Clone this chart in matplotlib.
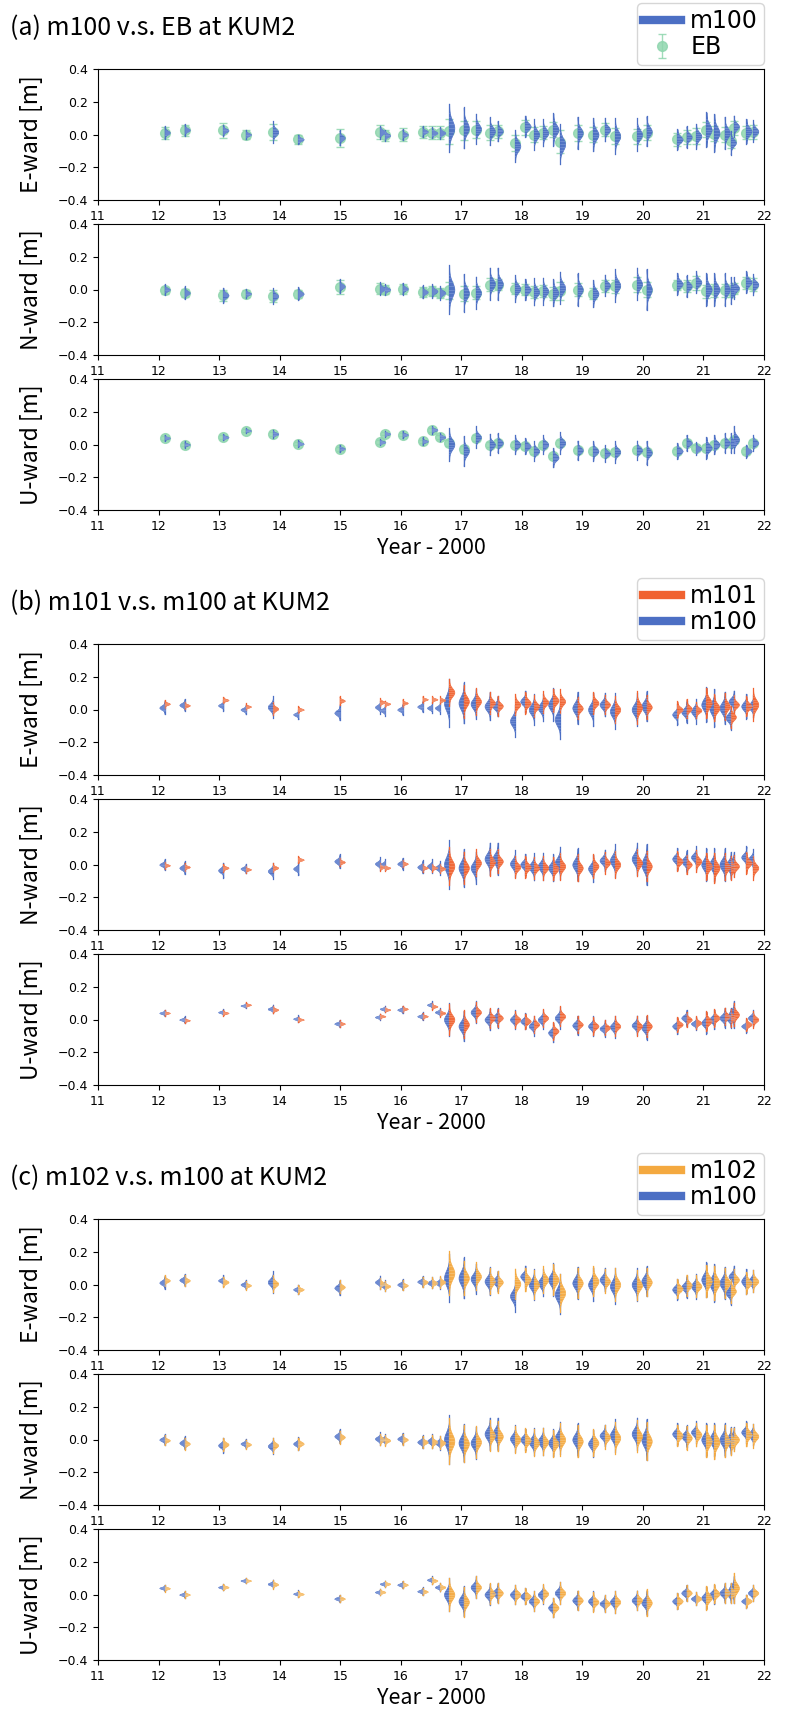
import numpy as np
import matplotlib
matplotlib.use("Agg")
import matplotlib.pyplot as plt
from matplotlib.lines import Line2D

# observation epochs (year - 2000)
epochs = [12.10, 12.43, 13.07, 13.44, 13.89, 14.31, 14.99, 15.66, 15.74, 16.03,
          16.36, 16.52, 16.65, 16.80, 17.04, 17.24, 17.47, 17.60, 17.89, 18.06,
          18.20, 18.35, 18.52, 18.63, 18.92, 19.18, 19.37, 19.54, 19.90, 20.06,
          20.57, 20.72, 20.88, 21.05, 21.18, 21.35, 21.45, 21.50, 21.71, 21.82]

# ---- E-ward ----
m100_e = [0.012, 0.028, 0.025, 0.000, 0.015, -0.030, -0.020, 0.015, -0.005, 0.000,
          0.018, 0.010, 0.010, 0.040, 0.040, 0.035, 0.020, 0.020, -0.070, 0.050,
          0.000, 0.010, 0.030, -0.060, 0.010, 0.000, 0.030, -0.010, 0.000, 0.020,
          -0.030, -0.015, -0.010, 0.030, 0.010, 0.010, -0.050, 0.050, 0.020, 0.020]
m100_e_sd = [0.012, 0.011, 0.010, 0.009, 0.020, 0.009, 0.014, 0.012, 0.010, 0.010,
             0.010, 0.010, 0.011, 0.045, 0.038, 0.028, 0.026, 0.019, 0.030, 0.020,
             0.028, 0.025, 0.030, 0.037, 0.030, 0.031, 0.022, 0.033, 0.030, 0.028,
             0.019, 0.020, 0.023, 0.032, 0.035, 0.030, 0.022, 0.020, 0.023, 0.020]
m101_e = [0.035, 0.025, 0.058, 0.018, 0.005, 0.000, 0.054, 0.045, 0.035, 0.040,
          0.062, 0.062, 0.058, 0.105, 0.050, 0.050, 0.040, 0.022, 0.030, 0.040,
          0.020, 0.045, 0.055, 0.050, 0.008, 0.040, 0.030, 0.000, 0.012, 0.015,
          0.000, 0.005, -0.005, 0.040, 0.010, 0.020, -0.045, 0.030, 0.020, 0.030]
m101_e_sd = [0.007, 0.007, 0.006, 0.006, 0.012, 0.006, 0.008, 0.007, 0.006, 0.007,
             0.006, 0.006, 0.007, 0.025, 0.030, 0.025, 0.020, 0.018, 0.020, 0.020,
             0.020, 0.020, 0.022, 0.022, 0.020, 0.020, 0.018, 0.025, 0.030, 0.022,
             0.015, 0.018, 0.015, 0.028, 0.025, 0.025, 0.020, 0.018, 0.018, 0.030]
m102_e = [0.025, 0.025, 0.015, -0.005, 0.005, -0.030, -0.015, 0.005, -0.010, -0.005,
          0.015, 0.010, 0.015, 0.070, 0.040, 0.050, 0.020, 0.015, 0.005, 0.030,
          0.000, 0.030, 0.030, -0.050, 0.010, 0.020, 0.020, 0.000, -0.005, 0.015,
          -0.025, -0.005, -0.010, 0.020, 0.010, 0.010, -0.040, 0.030, 0.010, 0.020]
m102_e_sd = [0.010, 0.010, 0.010, 0.008, 0.016, 0.008, 0.012, 0.010, 0.009, 0.009,
             0.010, 0.010, 0.011, 0.040, 0.032, 0.026, 0.024, 0.020, 0.028, 0.022,
             0.026, 0.025, 0.028, 0.035, 0.028, 0.028, 0.022, 0.030, 0.028, 0.026,
             0.018, 0.020, 0.020, 0.030, 0.032, 0.028, 0.022, 0.020, 0.020, 0.020]
eb_e = [0.010, 0.025, 0.025, 0.000, 0.015, -0.030, -0.020, 0.015, -0.005, 0.000,
        0.015, 0.010, 0.010, 0.020, 0.025, 0.030, 0.010, 0.020, -0.050, 0.045,
        0.000, 0.010, 0.030, -0.045, 0.010, 0.000, 0.030, -0.010, -0.010, 0.010,
        -0.030, -0.015, -0.010, 0.030, 0.005, 0.000, -0.040, 0.040, 0.010, 0.015]
eb_e_err = [0.035, 0.035, 0.045, 0.030, 0.050, 0.025, 0.055, 0.040, 0.035, 0.040,
            0.035, 0.040, 0.040, 0.075, 0.060, 0.050, 0.045, 0.040, 0.050, 0.045,
            0.045, 0.040, 0.045, 0.070, 0.050, 0.045, 0.040, 0.050, 0.045, 0.045,
            0.040, 0.045, 0.050, 0.045, 0.045, 0.045, 0.045, 0.040, 0.040, 0.045]

# ---- N-ward ----
m100_n = [0.000, -0.020, -0.035, -0.025, -0.040, -0.025, 0.020, 0.005, 0.000, 0.005,
          -0.015, -0.010, -0.020, 0.000, -0.020, -0.020, 0.035, 0.035, 0.005, 0.000,
          -0.015, -0.010, -0.020, 0.010, 0.000, -0.025, 0.025, 0.025, 0.035, 0.000,
          0.035, 0.020, 0.045, 0.000, 0.000, 0.000, -0.005, 0.010, 0.045, 0.030]
m100_n_sd = [0.010, 0.012, 0.014, 0.009, 0.015, 0.012, 0.013, 0.012, 0.010, 0.011,
             0.012, 0.013, 0.013, 0.045, 0.035, 0.030, 0.030, 0.030, 0.025, 0.020,
             0.025, 0.025, 0.025, 0.030, 0.030, 0.025, 0.020, 0.030, 0.030, 0.038,
             0.020, 0.020, 0.020, 0.030, 0.030, 0.030, 0.025, 0.020, 0.020, 0.020]
m101_n = [-0.005, -0.015, -0.020, -0.030, -0.020, 0.030, 0.015, -0.015, -0.020, 0.005,
          -0.020, -0.020, -0.025, -0.010, -0.020, 0.010, 0.015, 0.020, -0.015, -0.015,
          -0.020, -0.020, -0.025, -0.010, -0.020, -0.010, 0.010, 0.000, 0.010, -0.010,
          0.020, 0.000, 0.020, -0.010, -0.020, -0.015, -0.020, -0.010, 0.010, -0.020]
m101_n_sd = [0.006, 0.007, 0.007, 0.006, 0.008, 0.006, 0.008, 0.007, 0.006, 0.007,
             0.007, 0.007, 0.008, 0.035, 0.030, 0.025, 0.025, 0.022, 0.020, 0.020,
             0.020, 0.022, 0.022, 0.025, 0.025, 0.022, 0.020, 0.025, 0.025, 0.028,
             0.018, 0.018, 0.020, 0.025, 0.028, 0.025, 0.022, 0.020, 0.020, 0.022]
m102_n = [-0.005, -0.025, -0.030, -0.030, -0.035, -0.025, 0.015, 0.000, -0.005, 0.000,
          -0.015, -0.015, -0.020, -0.010, -0.025, -0.015, 0.025, 0.020, 0.000, -0.005,
          -0.020, -0.015, -0.025, 0.000, -0.010, -0.020, 0.015, 0.010, 0.020, -0.010,
          0.025, 0.010, 0.030, -0.010, -0.015, -0.010, -0.015, 0.000, 0.030, 0.020]
m102_n_sd = [0.009, 0.011, 0.012, 0.009, 0.014, 0.011, 0.012, 0.011, 0.010, 0.010,
             0.011, 0.012, 0.012, 0.042, 0.034, 0.030, 0.028, 0.028, 0.025, 0.022,
             0.025, 0.025, 0.025, 0.030, 0.030, 0.025, 0.022, 0.030, 0.030, 0.035,
             0.020, 0.022, 0.022, 0.030, 0.032, 0.030, 0.025, 0.022, 0.022, 0.022]
eb_n = [-0.005, -0.020, -0.035, -0.025, -0.040, -0.025, 0.015, 0.005, 0.000, 0.005,
        -0.015, -0.010, -0.020, -0.005, -0.025, -0.020, 0.030, 0.030, 0.005, 0.000,
        -0.015, -0.010, -0.025, -0.010, 0.000, -0.025, 0.020, 0.020, 0.030, 0.000,
        0.030, 0.020, 0.040, -0.010, -0.005, -0.005, -0.010, 0.005, 0.040, 0.030]
eb_n_err = [0.020, 0.025, 0.035, 0.020, 0.035, 0.025, 0.040, 0.035, 0.030, 0.030,
            0.030, 0.030, 0.030, 0.050, 0.045, 0.040, 0.040, 0.035, 0.035, 0.035,
            0.035, 0.035, 0.040, 0.055, 0.040, 0.035, 0.035, 0.040, 0.045, 0.045,
            0.030, 0.035, 0.040, 0.040, 0.040, 0.040, 0.035, 0.035, 0.035, 0.040]

# ---- U-ward ----
m100_u = [0.040, 0.000, 0.045, 0.085, 0.065, 0.005, -0.025, 0.015, 0.065, 0.060,
          0.020, 0.090, 0.045, 0.000, -0.040, 0.045, 0.000, 0.010, 0.000, -0.010,
          -0.040, 0.000, -0.080, 0.010, -0.035, -0.040, -0.055, -0.045, -0.035, -0.050,
          -0.040, 0.010, -0.025, -0.020, 0.000, 0.010, 0.010, 0.030, -0.040, 0.010]
m100_u_sd = [0.006, 0.006, 0.006, 0.005, 0.008, 0.006, 0.007, 0.006, 0.006, 0.007,
             0.007, 0.007, 0.008, 0.030, 0.028, 0.020, 0.020, 0.018, 0.018, 0.015,
             0.018, 0.018, 0.018, 0.020, 0.018, 0.018, 0.015, 0.020, 0.018, 0.022,
             0.015, 0.015, 0.012, 0.020, 0.018, 0.018, 0.018, 0.025, 0.012, 0.015]
m101_u = [0.040, -0.005, 0.040, 0.090, 0.060, 0.000, -0.025, 0.020, 0.060, 0.065,
          0.020, 0.080, 0.040, 0.000, -0.030, 0.045, 0.010, 0.010, 0.000, -0.010,
          -0.030, 0.010, -0.070, 0.020, -0.030, -0.040, -0.050, -0.040, -0.040, -0.040,
          -0.030, 0.000, -0.020, -0.010, 0.010, 0.020, 0.010, 0.030, -0.030, 0.000]
m101_u_sd = [0.005, 0.005, 0.005, 0.005, 0.007, 0.005, 0.006, 0.005, 0.005, 0.006,
             0.006, 0.006, 0.007, 0.028, 0.026, 0.018, 0.018, 0.016, 0.016, 0.014,
             0.016, 0.016, 0.016, 0.018, 0.016, 0.016, 0.014, 0.018, 0.018, 0.020,
             0.014, 0.014, 0.012, 0.018, 0.016, 0.016, 0.016, 0.022, 0.012, 0.016]
m102_u = [0.038, 0.000, 0.045, 0.085, 0.062, 0.003, -0.025, 0.015, 0.065, 0.060,
          0.018, 0.085, 0.045, 0.000, -0.045, 0.045, 0.005, 0.010, 0.000, -0.010,
          -0.040, 0.005, -0.080, 0.010, -0.035, -0.045, -0.055, -0.045, -0.035, -0.050,
          -0.040, 0.010, -0.025, -0.020, 0.005, 0.010, 0.010, 0.040, -0.040, 0.010]
m102_u_sd = [0.006, 0.006, 0.006, 0.005, 0.008, 0.006, 0.007, 0.006, 0.006, 0.007,
             0.007, 0.007, 0.008, 0.030, 0.028, 0.020, 0.020, 0.018, 0.018, 0.015,
             0.018, 0.018, 0.018, 0.020, 0.018, 0.018, 0.015, 0.020, 0.018, 0.025,
             0.015, 0.015, 0.012, 0.022, 0.018, 0.018, 0.018, 0.028, 0.012, 0.015]
eb_u = [0.040, 0.000, 0.045, 0.085, 0.065, 0.005, -0.025, 0.015, 0.065, 0.060,
        0.020, 0.090, 0.045, 0.010, -0.030, 0.040, 0.000, 0.010, 0.000, -0.010,
        -0.040, 0.000, -0.070, 0.010, -0.035, -0.040, -0.050, -0.045, -0.035, -0.045,
        -0.040, 0.010, -0.020, -0.020, 0.000, 0.010, 0.010, 0.025, -0.040, 0.010]
eb_u_err = [0.010, 0.010, 0.010, 0.010, 0.012, 0.010, 0.012, 0.010, 0.010, 0.010,
            0.010, 0.012, 0.012, 0.020, 0.020, 0.018, 0.015, 0.015, 0.015, 0.015,
            0.015, 0.015, 0.015, 0.018, 0.015, 0.015, 0.015, 0.015, 0.015, 0.018,
            0.015, 0.015, 0.015, 0.015, 0.015, 0.015, 0.015, 0.018, 0.015, 0.015]

comp_labels = ["E-ward [m]", "N-ward [m]", "U-ward [m]"]
m100 = [(m100_e, m100_e_sd), (m100_n, m100_n_sd), (m100_u, m100_u_sd)]
m101 = [(m101_e, m101_e_sd), (m101_n, m101_n_sd), (m101_u, m101_u_sd)]
m102 = [(m102_e, m102_e_sd), (m102_n, m102_n_sd), (m102_u, m102_u_sd)]
eb = [(eb_e, eb_e_err), (eb_n, eb_n_err), (eb_u, eb_u_err)]

BLUE = "#4c6fc4"
BLUE_L = "#8ea6e0"
RED = "#f06230"
RED_L = "#f7a07e"
YEL = "#f4a940"
YEL_L = "#f9cf8e"
GREEN = "#8fd6ae"

JP = ["Noto Sans CJK JP", "DejaVu Sans"]
W, H = 788, 1711
AX_L, AX_R, AX_H = 98, 764, 131


def half_violin(ax, x, mu, sd, side, color, light, width=0.085):
    y = np.linspace(mu - 3.3 * sd, mu + 3.3 * sd, 121)
    w = width * np.exp(-0.5 * ((y - mu) / sd) ** 2) * side
    ax.fill_betweenx(y, x, x + w, facecolor=color, edgecolor=color,
                     lw=0.5, alpha=0.95, zorder=2)
    ax.plot([x, x], [y[0], y[-1]], color=color, lw=0.9, zorder=2)
    # inner sticks
    for z in np.linspace(-2.0, 2.0, 9):
        ww = width * np.exp(-0.5 * z * z) * side
        ax.plot([x, x + ww], [mu + z * sd, mu + z * sd],
                color=light, lw=0.4, alpha=0.8, zorder=2.5)


def make_ax(top):
    ax = fig.add_axes([AX_L / W, 1 - (top + AX_H) / H, (AX_R - AX_L) / W, AX_H / H])
    ax.set_xlim(11, 22)
    ax.set_ylim(-0.4, 0.4)
    ax.set_xticks(range(11, 23))
    ax.set_yticks([-0.4, -0.2, 0.0, 0.2, 0.4])
    ax.tick_params(labelsize=9)
    return ax


fig = plt.figure(figsize=(W / 100, H / 100), dpi=100)

groups = [
    (69, "(a) m100 v.s. EB at KUM2", None, None, None),
    (644, "(b) m101 v.s. m100 at KUM2", m101, RED, RED_L),
    (1219, "(c) m102 v.s. m100 at KUM2", m102, YEL, YEL_L),
]

for gtop, title, other, ocol, olight in groups:
    fig.text(10 / W, 1 - (gtop - 41) / H, title, fontsize=18, family=JP,
             va="center", ha="left")
    for k in range(3):
        top = gtop + k * 155
        ax = make_ax(top)
        mu0, sd0 = m100[k]
        if other is None:
            ev, ee = eb[k]
            eb_h = ax.errorbar(epochs, ev, yerr=ee, fmt="o", ms=7, color=GREEN,
                               ecolor=GREEN, elinewidth=1, capsize=3, alpha=0.85,
                               zorder=1.5)
            for x, m, s in zip(epochs, mu0, sd0):
                half_violin(ax, x, m, s, 1, BLUE, BLUE_L)
        else:
            mu1, sd1 = other[k]
            for x, m, s in zip(epochs, mu0, sd0):
                half_violin(ax, x, m, s, -1, BLUE, BLUE_L)
            for x, m, s in zip(epochs, mu1, sd1):
                half_violin(ax, x, m, s, 1, ocol, olight)
        ax.set_ylabel(comp_labels[k], fontsize=16.5, family=JP)
        ax.yaxis.set_label_coords(-0.083, 0.5)
        if k == 2:
            ax.set_xlabel("Year - 2000", fontsize=15.5, family=JP, labelpad=3)

    if other is None:
        handles = [Line2D([], [], color=BLUE, lw=6), eb_h]
        labels = ["m100", "EB"]
    else:
        handles = [Line2D([], [], color=ocol, lw=6), Line2D([], [], color=BLUE, lw=6)]
        labels = [title.split()[1], "m100"]
    fig.legend(handles, labels, loc="upper right", fontsize=17,
               bbox_to_anchor=(AX_R / W, 1 - (gtop - 66) / H),
               handlelength=1.6, borderpad=0.25, labelspacing=0.1,
               handletextpad=0.4, borderaxespad=0.0)

fig.savefig("out.png", dpi=100)
